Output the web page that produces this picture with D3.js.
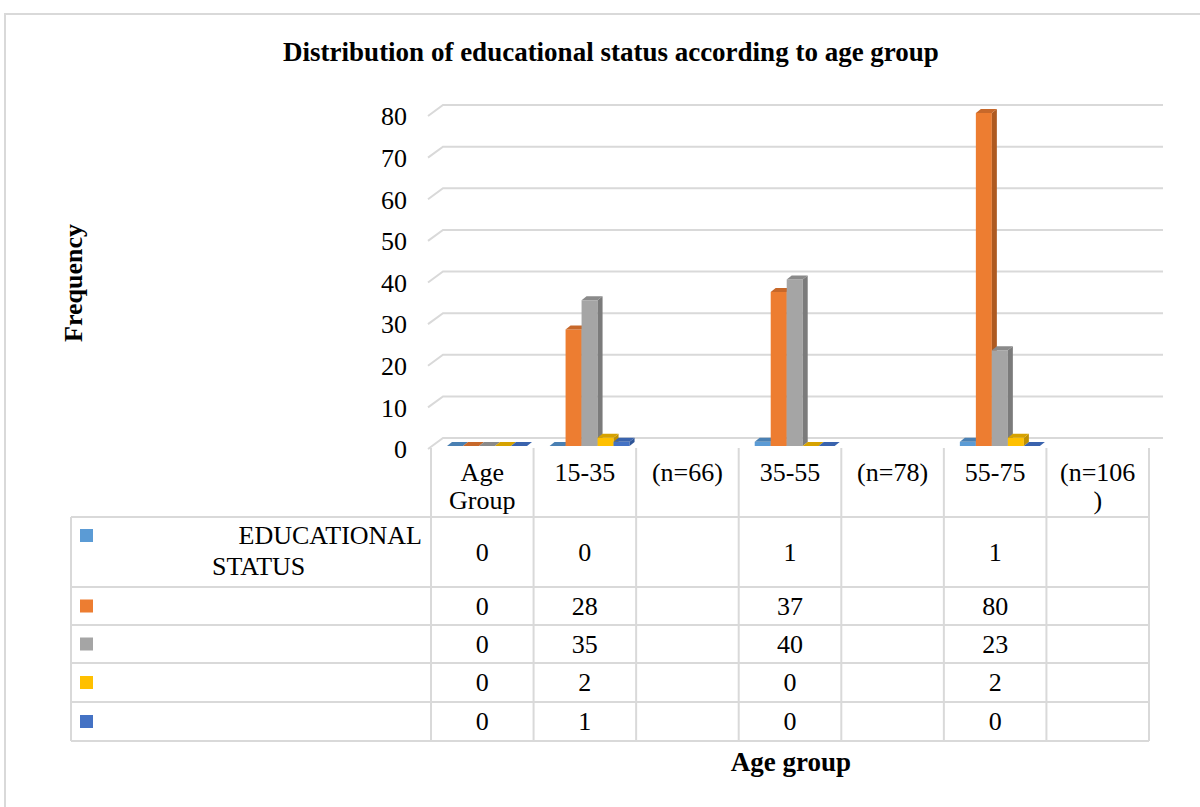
<!DOCTYPE html>
<html>
<head>
<meta charset="utf-8">
<script src="https://cdn.jsdelivr.net/npm/d3@7"></script>
<style>
  body { margin: 0; background: #fff; }
  svg text { font-family: "Liberation Serif", "Times New Roman", serif; fill: #000; }
</style>
</head>
<body>
<svg id="chart"></svg>
<script>
// categories / header cells of the data table
const categories = ["Age Group", "15-35", "(n=66)", "35-55", "(n=78)", "55-75", "(n=106)"];
const categoryLines = [["Age", "Group"], ["15-35"], ["(n=66)"], ["35-55"], ["(n=78)"], ["55-75"], ["(n=106", ")"]];

// series (null = empty cell)
const seriesNames = ["EDUCATIONAL STATUS", "", "", "", ""];
const series1 = [0, 0, null, 1, null, 1, null];
const series2 = [0, 28, null, 37, null, 80, null];
const series3 = [0, 35, null, 40, null, 23, null];
const series4 = [0, 2, null, 0, null, 2, null];
const series5 = [0, 1, null, 0, null, 0, null];
const yTicks = [0, 10, 20, 30, 40, 50, 60, 70, 80];

const allSeries = [series1, series2, series3, series4, series5];
const colours = [
  { front: "#5b9bd5", side: "#41719c", top: "#4a80b3" },
  { front: "#ed7d31", side: "#ae5a21", top: "#c7682a" },
  { front: "#a5a5a5", side: "#7b7b7b", top: "#8a8a8a" },
  { front: "#ffc000", side: "#bf9000", top: "#d6a200" },
  { front: "#4472c4", side: "#2f5597", top: "#3a63ad" }
];

const FONT = "'Liberation Serif', 'Times New Roman', serif";
const W = 1200, H = 807;
const svg = d3.select("#chart").attr("width", W).attr("height", H)
  .attr("font-family", FONT);

const txt = (sel) => sel.style("font-family", FONT).style("font-size", "26px").attr("fill", "#000");

// outer frame
svg.append("rect")
  .attr("x", 5).attr("y", 14).attr("width", W).attr("height", H)
  .attr("fill", "none").attr("stroke", "#d9d9d9").attr("stroke-width", 2);

// title
svg.append("text")
  .attr("x", 611).attr("y", 61)
  .attr("text-anchor", "middle")
  .call(txt)
  .style("font-size", "27px").style("font-weight", "bold")
  .text("Distribution of educational status according to age group");

// scales
const tableLeft = 71, colLeft = 431, colRight = 1149;
const x = d3.scaleBand().domain(categories).range([colLeft, colRight]);
const xs = d3.scaleBand().domain(d3.range(allSeries.length)).range([16, 96]);
const y = d3.scaleLinear().domain([0, 80]).range([438, 105]); // back wall
const wallDx = 15, wallDy = 11;   // depth of floor / side wall
const barShift = 8;               // bars sit a bit in front of the back wall
const barDx = 5, barDy = 4;       // depth of each column

// gridlines (back wall + left wall slant)
const grid = svg.append("g").attr("class", "grid");
yTicks.forEach(t => {
  grid.append("polyline")
    .attr("points", [[colLeft - 3, y(t) + wallDy], [colLeft - 3 + wallDx, y(t)], [colRight + 14, y(t)]].join(" "))
    .attr("fill", "none").attr("stroke", "#d9d9d9").attr("stroke-width", 2);
});

// y axis labels
const yFront = y.copy().range(y.range().map(v => v + wallDy));
const gY = svg.append("g")
  .attr("class", "axis y-axis")
  .attr("transform", "translate(407,0)")
  .call(d3.axisLeft(yFront).tickValues(yTicks).tickSize(0).tickPadding(0));
gY.select(".domain").remove();
gY.selectAll("text")
  .call(txt)
  .attr("dy", "0.34em");

svg.append("text")
  .attr("transform", "translate(82,283) rotate(-90)")
  .attr("text-anchor", "middle")
  .call(txt)
  .style("font-weight", "bold")
  .text("Frequency");

// 3D columns
const bars = svg.append("g").attr("class", "bars");
categories.forEach((c, ci) => {
  allSeries.forEach((s, si) => {
    const v = s[ci];
    if (v === null) return;
    const x0 = x(c) + xs(si), x1 = x0 + xs.bandwidth();
    const yb = y(0) + barShift, yt = y(v) + barShift;
    const col = colours[si];
    const g = bars.append("g");
    if (v > 0) {
      g.append("rect").attr("x", x0).attr("y", yt).attr("width", x1 - x0).attr("height", yb - yt)
        .attr("fill", col.front);
      g.append("polygon")
        .attr("points", [[x1, yt], [x1 + barDx, yt - barDy], [x1 + barDx, yb - barDy], [x1, yb]].join(" "))
        .attr("fill", col.side);
    }
    g.append("polygon")
      .attr("points", [[x0, yt], [x1, yt], [x1 + barDx, yt - barDy], [x0 + barDx, yt - barDy]].join(" "))
      .attr("fill", col.top);
  });
});

// data table
const rowLines = [517, 587, 625, 663, 702, 741];
const line = (x1, y1, x2, y2) => svg.append("line")
  .attr("x1", x1).attr("y1", y1).attr("x2", x2).attr("y2", y2)
  .attr("stroke", "#d9d9d9").attr("stroke-width", 2);

categories.forEach(c => line(x(c), 448, x(c), rowLines[rowLines.length - 1]));
line(colRight, 448, colRight, rowLines[rowLines.length - 1]);
line(tableLeft, rowLines[0], tableLeft, rowLines[rowLines.length - 1]);
rowLines.forEach(r => line(tableLeft, r, colRight, r));

// header cells
categories.forEach((c, ci) => {
  const t = svg.append("text")
    .attr("x", x(c) + x.bandwidth() / 2).attr("y", 481)
    .attr("text-anchor", "middle").call(txt);
  categoryLines[ci].forEach((l, li) => {
    t.append("tspan").attr("x", x(c) + x.bandwidth() / 2).attr("dy", li ? 28 : 0).text(l);
  });
});

// rows
allSeries.forEach((s, si) => {
  const top = rowLines[si], bot = rowLines[si + 1], mid = (top + bot) / 2;
  svg.append("rect")
    .attr("x", 80).attr("y", si === 0 ? 529 : mid - 6.5)
    .attr("width", 13).attr("height", 13)
    .attr("fill", colours[si].front);
  s.forEach((v, ci) => {
    if (v === null) return;
    svg.append("text")
      .attr("x", x(categories[ci]) + x.bandwidth() / 2).attr("y", mid)
      .attr("dy", "0.34em").attr("text-anchor", "middle")
      .call(txt)
      .text(v);
  });
});

// series name (wrapped like the original cell)
const nameWords = seriesNames[0].split(" ");
svg.append("text").attr("x", 422).attr("y", 544).attr("text-anchor", "end")
  .call(txt).text(nameWords[0]);
svg.append("text").attr("x", 212).attr("y", 575)
  .call(txt).text(nameWords[1]);

// x axis title
svg.append("text")
  .attr("x", 791).attr("y", 771)
  .attr("text-anchor", "middle")
  .call(txt)
  .style("font-size", "27px").style("font-weight", "bold")
  .text("Age group");
</script>
</body>
</html>
